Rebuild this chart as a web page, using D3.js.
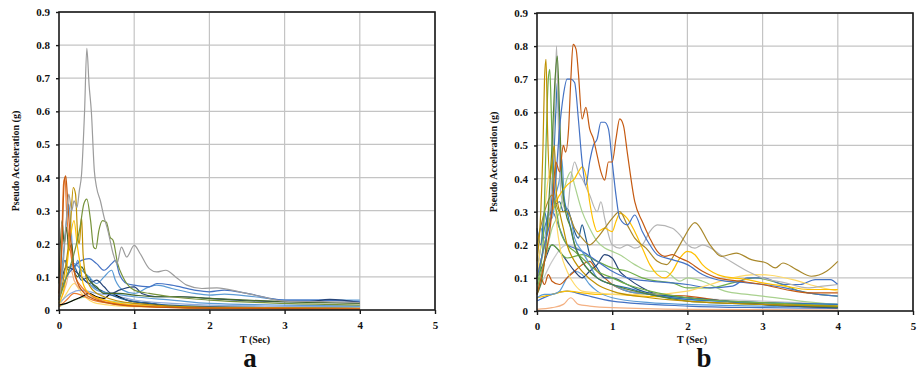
<!DOCTYPE html>
<html>
<head>
<meta charset="utf-8">
<script src="https://cdn.jsdelivr.net/npm/d3@7"></script>
<style>
  body { margin: 0; background: #fff; }
  svg text { font-family: "Liberation Serif", "Times New Roman", serif; font-weight: bold; }
</style>
</head>
<body>
<div id="chart"></div>
<script>
// Period ticks and acceleration ticks shared by both panels
const periodTicks = [0, 1, 2, 3, 4, 5]
const accelTicks = [0, 0.1, 0.2, 0.3, 0.4, 0.5, 0.6, 0.7, 0.8, 0.9]

// ---- panel a : spectra, [T (s), Sa (g)] ----
const aGray = [[0,0.03],[0.05,0.12],[0.1,0.28],[0.13,0.35],[0.17,0.3],[0.2,0.33],[0.24,0.31],[0.27,0.36],[0.3,0.41],[0.34,0.6],[0.37,0.79],[0.4,0.68],[0.43,0.6],[0.47,0.42],[0.5,0.37],[0.55,0.33],[0.6,0.28],[0.65,0.24],[0.72,0.17],[0.77,0.14],[0.83,0.19],[0.9,0.16],[1.0,0.195],[1.08,0.17],[1.2,0.125],[1.3,0.115],[1.42,0.12],[1.55,0.1],[1.7,0.075],[1.9,0.065],[2.1,0.067],[2.4,0.055],[2.7,0.04],[3.0,0.027],[3.5,0.025],[4.0,0.022]]
const aGreen = [[0,0.03],[0.1,0.1],[0.2,0.17],[0.28,0.25],[0.33,0.32],[0.37,0.335],[0.42,0.27],[0.46,0.19],[0.49,0.185],[0.53,0.24],[0.58,0.27],[0.63,0.265],[0.68,0.22],[0.72,0.21],[0.78,0.14],[0.85,0.1],[0.9,0.08],[1.0,0.06],[1.2,0.05],[1.5,0.04],[2,0.03],[3,0.02],[4,0.015]]
const aOrange1 = [[0,0.05],[0.04,0.2],[0.07,0.39],[0.09,0.405],[0.11,0.35],[0.13,0.28],[0.16,0.2],[0.2,0.12],[0.3,0.06],[0.5,0.03],[1,0.012],[2,0.006],[4,0.003]]
const aOrange2 = [[0,0.04],[0.03,0.15],[0.06,0.38],[0.08,0.4],[0.1,0.3],[0.13,0.22],[0.17,0.15],[0.22,0.1],[0.3,0.07],[0.45,0.04],[0.7,0.02],[1,0.012],[2,0.006],[4,0.004]]
const aOrange3 = [[0,0.01],[0.1,0.03],[0.2,0.05],[0.3,0.045],[0.45,0.03],[0.7,0.02],[1,0.015],[2,0.008],[4,0.004]]
const aPeach = [[0,0.02],[0.1,0.08],[0.15,0.13],[0.2,0.09],[0.3,0.06],[0.4,0.05],[0.6,0.03],[1,0.015],[2,0.006],[4,0.003]]
const aGold = [[0,0.03],[0.1,0.15],[0.15,0.25],[0.19,0.37],[0.22,0.35],[0.25,0.22],[0.27,0.2],[0.3,0.28],[0.32,0.17],[0.36,0.1],[0.45,0.06],[0.6,0.04],[1,0.02],[2,0.008],[4,0.005]]
const aYellow = [[0,0.02],[0.08,0.08],[0.14,0.2],[0.2,0.27],[0.24,0.2],[0.28,0.14],[0.32,0.08],[0.4,0.05],[0.6,0.03],[1,0.015],[2,0.006],[4,0.004]]
const aLtYellow = [[0,0.01],[0.1,0.05],[0.2,0.08],[0.3,0.05],[0.5,0.02],[1,0.01],[4,0.003]]
const aLtBlue = [[0,0.05],[0.05,0.15],[0.1,0.27],[0.13,0.32],[0.16,0.25],[0.2,0.12],[0.25,0.15],[0.3,0.1],[0.4,0.08],[0.5,0.06],[0.7,0.05],[1,0.04],[1.5,0.03],[2,0.02],[3,0.015],[4,0.012]]
const aBlue = [[0,0.04],[0.1,0.1],[0.2,0.13],[0.3,0.15],[0.4,0.155],[0.5,0.14],[0.6,0.12],[0.7,0.14],[0.75,0.15],[0.8,0.11],[0.9,0.08],[1.0,0.075],[1.2,0.07],[1.3,0.08],[1.5,0.075],[1.8,0.06],[2.0,0.055],[2.2,0.06],[2.5,0.05],[3.0,0.03],[3.5,0.03],[4,0.025]]
const aBlue2 = [[0,0.04],[0.1,0.1],[0.2,0.14],[0.3,0.12],[0.4,0.1],[0.5,0.08],[0.6,0.1],[0.7,0.12],[0.75,0.09],[0.85,0.06],[1.0,0.05],[1.2,0.07],[1.3,0.075],[1.5,0.065],[1.8,0.05],[2.0,0.045],[2.2,0.048],[2.6,0.04],[3.0,0.03],[3.5,0.03],[4.0,0.03]]
const aDkBlue = [[0,0.05],[0.1,0.13],[0.2,0.12],[0.3,0.1],[0.4,0.08],[0.5,0.09],[0.6,0.07],[0.7,0.05],[0.8,0.06],[1.0,0.07],[1.1,0.05],[1.3,0.04],[1.6,0.04],[2.0,0.035],[2.5,0.028],[3.0,0.025],[3.3,0.025],[3.6,0.032],[4,0.022]]
const aSteel = [[0,0.03],[0.08,0.15],[0.12,0.12],[0.18,0.14],[0.25,0.11],[0.3,0.09],[0.4,0.1],[0.45,0.075],[0.55,0.06],[0.7,0.045],[0.9,0.03],[1.2,0.02],[2,0.01],[4,0.005]]
const aDkGreen = [[0,0.08],[0.04,0.27],[0.07,0.2],[0.1,0.25],[0.13,0.18],[0.17,0.2],[0.2,0.12],[0.25,0.1],[0.3,0.13],[0.35,0.11],[0.4,0.09],[0.5,0.07],[0.6,0.05],[0.8,0.05],[1.0,0.045],[1.3,0.04],[1.6,0.04],[2,0.035],[2.5,0.03],[3,0.025],[4,0.02]]
const aLtGreen = [[0,0.01],[0.2,0.03],[0.4,0.04],[0.6,0.03],[1,0.02],[2,0.01],[4,0.005]]
const aSlate = [[0,0.02],[0.15,0.05],[0.3,0.06],[0.5,0.05],[0.7,0.045],[1,0.03],[1.5,0.02],[2,0.015],[4,0.01]]
const aBlack = [[0,0.015],[0.1,0.02],[0.2,0.03],[0.3,0.04],[0.4,0.05],[0.5,0.04],[0.6,0.035],[0.7,0.05],[0.8,0.04],[0.9,0.03],[1.0,0.025],[1.2,0.02],[1.5,0.01],[2,0.005],[4,0.003]]

// ---- panel b ----
const bBrown = [[0,0.05],[0.1,0.15],[0.2,0.3],[0.25,0.45],[0.3,0.42],[0.35,0.5],[0.38,0.48],[0.42,0.55],[0.45,0.7],[0.48,0.805],[0.52,0.79],[0.55,0.72],[0.6,0.58],[0.65,0.615],[0.7,0.55],[0.75,0.52],[0.8,0.47],[0.85,0.42],[0.9,0.395],[0.95,0.45],[1.0,0.45],[1.05,0.52],[1.1,0.58],[1.15,0.56],[1.2,0.48],[1.3,0.33],[1.4,0.27],[1.5,0.22],[1.6,0.18],[1.7,0.165],[1.8,0.17],[1.9,0.16],[2.0,0.15],[2.2,0.12],[2.4,0.1],[2.7,0.09],[3.0,0.08],[3.3,0.065],[3.6,0.055],[4,0.055]]
const bBlue = [[0,0.1],[0.1,0.2],[0.2,0.3],[0.25,0.4],[0.3,0.55],[0.35,0.65],[0.4,0.7],[0.45,0.7],[0.5,0.69],[0.55,0.58],[0.6,0.45],[0.65,0.38],[0.7,0.45],[0.75,0.5],[0.8,0.52],[0.85,0.57],[0.9,0.57],[0.95,0.55],[1.0,0.45],[1.05,0.35],[1.1,0.28],[1.2,0.26],[1.3,0.29],[1.4,0.24],[1.5,0.2],[1.6,0.17],[1.8,0.155],[2.0,0.14],[2.2,0.11],[2.5,0.09],[2.8,0.085],[3.0,0.08],[3.3,0.07],[3.6,0.055],[4,0.045]]
const bOlive = [[0,0.2],[0.1,0.3],[0.2,0.35],[0.3,0.3],[0.4,0.3],[0.5,0.25],[0.6,0.22],[0.7,0.2],[0.8,0.22],[0.9,0.25],[1.0,0.28],[1.1,0.3],[1.2,0.26],[1.3,0.22],[1.45,0.19],[1.6,0.15],[1.72,0.14],[1.85,0.18],[1.95,0.22],[2.1,0.267],[2.3,0.2],[2.45,0.165],[2.65,0.175],[2.85,0.155],[3.05,0.145],[3.17,0.13],[3.27,0.145],[3.45,0.125],[3.65,0.105],[3.85,0.12],[4.0,0.15]]
const bGold = [[0,0.15],[0.05,0.3],[0.08,0.5],[0.1,0.7],[0.12,0.76],[0.14,0.55],[0.17,0.4],[0.2,0.45],[0.23,0.5],[0.26,0.35],[0.3,0.3],[0.35,0.25],[0.4,0.2],[0.5,0.15],[0.6,0.12],[0.8,0.08],[1,0.06],[1.5,0.04],[2,0.03],[3,0.02],[4,0.015]]
const bYellow = [[0,0.1],[0.1,0.2],[0.2,0.3],[0.3,0.35],[0.4,0.38],[0.5,0.4],[0.55,0.42],[0.6,0.435],[0.65,0.41],[0.7,0.33],[0.75,0.27],[0.8,0.24],[0.9,0.25],[1.0,0.24],[1.05,0.27],[1.1,0.295],[1.2,0.28],[1.3,0.24],[1.4,0.19],[1.5,0.14],[1.6,0.11],[1.7,0.1],[1.8,0.12],[1.9,0.16],[2.0,0.18],[2.1,0.17],[2.2,0.14],[2.4,0.11],[2.6,0.1],[2.8,0.095],[3.0,0.085],[3.3,0.075],[3.6,0.065],[4.0,0.065]]
const bLtYellow = [[0,0.1],[0.1,0.3],[0.15,0.4],[0.22,0.45],[0.25,0.3],[0.3,0.2],[0.4,0.12],[0.5,0.08],[0.6,0.06],[0.8,0.055],[1.0,0.05],[1.5,0.05],[2,0.06],[2.3,0.08],[2.6,0.1],[2.9,0.11],[3.1,0.108],[3.4,0.095],[3.7,0.075],[4,0.06]]
const bGray = [[0,0.1],[0.1,0.2],[0.2,0.4],[0.24,0.65],[0.26,0.8],[0.28,0.6],[0.32,0.35],[0.4,0.3],[0.45,0.4],[0.5,0.45],[0.55,0.42],[0.6,0.4],[0.7,0.35],[0.8,0.3],[0.85,0.33],[0.9,0.28],[1.0,0.2],[1.1,0.19],[1.2,0.2],[1.3,0.19],[1.4,0.2],[1.5,0.24],[1.6,0.26],[1.8,0.25],[1.9,0.23],[2.0,0.2],[2.1,0.19],[2.2,0.2],[2.5,0.16],[2.8,0.12],[3.0,0.1],[3.3,0.085],[3.6,0.07],[3.8,0.075],[4.0,0.08]]
const bLtGray = [[0,0.05],[0.2,0.15],[0.4,0.2],[0.6,0.18],[0.8,0.1],[1,0.08],[1.5,0.05],[2,0.04],[3,0.03],[4,0.02]]
const bDkGreen = [[0,0.05],[0.1,0.15],[0.15,0.3],[0.2,0.5],[0.24,0.7],[0.27,0.77],[0.3,0.6],[0.33,0.4],[0.38,0.3],[0.45,0.25],[0.5,0.2],[0.6,0.15],[0.7,0.12],[0.8,0.1],[1,0.08],[1.5,0.05],[2,0.03],[3,0.02],[4,0.012]]
const bGreen = [[0,0.08],[0.08,0.2],[0.12,0.5],[0.15,0.7],[0.17,0.73],[0.19,0.6],[0.22,0.35],[0.26,0.3],[0.3,0.25],[0.4,0.2],[0.5,0.18],[0.6,0.16],[0.8,0.12],[1,0.1],[1.2,0.08],[1.5,0.06],[2,0.04],[3,0.025],[4,0.015]]
const bLtGreen = [[0,0.05],[0.1,0.15],[0.2,0.25],[0.3,0.3],[0.4,0.4],[0.45,0.42],[0.5,0.38],[0.6,0.3],[0.7,0.25],[0.8,0.21],[0.9,0.19],[1.0,0.18],[1.1,0.17],[1.3,0.14],[1.5,0.12],[1.7,0.12],[1.9,0.09],[2.0,0.1],[2.2,0.09],[2.5,0.06],[2.8,0.05],[3.0,0.045],[3.5,0.03],[4.0,0.02]]
const bGreen2 = [[0,0.06],[0.2,0.2],[0.4,0.16],[0.6,0.17],[0.8,0.15],[1.0,0.13],[1.2,0.12],[1.4,0.1],[1.6,0.09],[1.8,0.085],[2.0,0.07],[2.3,0.07],[2.6,0.085],[2.9,0.1],[3.2,0.085],[3.5,0.06],[4,0.045]]
const bLtBlue = [[0,0.2],[0.05,0.25],[0.1,0.22],[0.15,0.3],[0.2,0.28],[0.25,0.35],[0.3,0.4],[0.33,0.46],[0.36,0.35],[0.4,0.3],[0.45,0.28],[0.5,0.22],[0.6,0.18],[0.7,0.14],[0.8,0.1],[1.0,0.08],[1.2,0.06],[1.5,0.05],[2,0.035],[3,0.025],[4,0.02]]
const bBlue3 = [[0,0.25],[0.05,0.2],[0.1,0.3],[0.15,0.25],[0.2,0.35],[0.25,0.6],[0.27,0.69],[0.3,0.5],[0.35,0.35],[0.4,0.3],[0.5,0.2],[0.6,0.15],[0.7,0.12],[0.8,0.1],[1,0.08],[1.2,0.07],[1.5,0.05],[2,0.035],[2.5,0.03],[3,0.025],[4,0.02]]
const bBlue4 = [[0,0.12],[0.1,0.25],[0.2,0.3],[0.3,0.25],[0.4,0.2],[0.5,0.19],[0.6,0.18],[0.8,0.15],[1.0,0.12],[1.2,0.1],[1.5,0.09],[1.8,0.085],[2.0,0.08],[2.3,0.07],[2.6,0.075],[2.8,0.1],[3.0,0.1],[3.3,0.08],[3.5,0.08],[3.7,0.095],[3.9,0.095],[4.0,0.08]]
const bSteel = [[0,0.1],[0.1,0.2],[0.2,0.3],[0.3,0.33],[0.35,0.3],[0.4,0.31],[0.45,0.28],[0.5,0.24],[0.55,0.22],[0.6,0.26],[0.65,0.22],[0.7,0.17],[0.8,0.13],[0.9,0.1],[1.0,0.1],[1.2,0.08],[1.4,0.06],[1.6,0.05],[2,0.04],[2.5,0.03],[3,0.02],[4,0.012]]
const bDkBlue = [[0,0.1],[0.1,0.15],[0.2,0.2],[0.3,0.18],[0.4,0.15],[0.5,0.12],[0.6,0.1],[0.7,0.12],[0.8,0.14],[0.9,0.17],[1.0,0.16],[1.1,0.12],[1.2,0.1],[1.4,0.07],[1.6,0.05],[2.0,0.04],[2.5,0.03],[3.0,0.02],[4,0.01]]
const bOrange = [[0,0.05],[0.05,0.1],[0.1,0.08],[0.15,0.11],[0.2,0.09],[0.3,0.08],[0.4,0.1],[0.5,0.12],[0.6,0.14],[0.7,0.15],[0.8,0.12],[0.9,0.1],[1.0,0.08],[1.2,0.06],[1.5,0.05],[2,0.045],[2.5,0.03],[3,0.02],[4,0.01]]
const bPeach = [[0,0.005],[0.2,0.01],[0.35,0.02],[0.45,0.04],[0.55,0.02],[0.7,0.015],[1,0.01],[2,0.005],[4,0.003]]
const bLowBlue = [[0,0.04],[0.1,0.05],[0.2,0.05],[0.3,0.06],[0.4,0.1],[0.5,0.12],[0.6,0.11],[0.7,0.08],[0.8,0.06],[1,0.04],[1.5,0.025],[2,0.02],[3,0.015],[4,0.01]]
const bLowBlue2 = [[0,0.03],[0.2,0.05],[0.4,0.06],[0.6,0.05],[1,0.03],[2,0.015],[3,0.01],[4,0.008]]
const bYellowLow = [[0,0.04],[0.2,0.05],[0.4,0.06],[0.6,0.055],[0.8,0.05],[1.0,0.05],[1.4,0.045],[2,0.04],[2.5,0.03],[3,0.025],[4,0.015]]

const panelA = [
  [aLtGreen, '#a9d18e'], [aLtYellow, '#ffd966'], [aOrange3, '#ed7d31'], [aPeach, '#f4b183'],
  [aSlate, '#8faadc'], [aBlack, '#000000'], [aSteel, '#255e91'], [aLtBlue, '#5b9bd5'],
  [aBlue2, '#5b9bd5'], [aBlue, '#4472c4'], [aDkBlue, '#264478'], [aDkGreen, '#43682b'],
  [aYellow, '#ffc000'], [aGold, '#bf9000'], [aOrange2, '#ed7d31'], [aOrange1, '#c55a11'],
  [aGreen, '#77933c'], [aGray, '#9c9c9c']
]
const panelB = [
  [bPeach, '#f4b183'], [bLowBlue2, '#4472c4'], [bYellowLow, '#ffc000'], [bLowBlue, '#5b9bd5'],
  [bLtGray, '#c9c9c9'], [bOrange, '#c55a11'], [bDkBlue, '#264478'], [bSteel, '#255e91'],
  [bGreen2, '#70ad47'], [bLtGreen, '#a9d18e'], [bBlue4, '#4472c4'], [bLtYellow, '#ffd966'],
  [bLtBlue, '#5b9bd5'], [bBlue3, '#2e75b6'], [bGray, '#b4b4b4'], [bYellow, '#ffc000'],
  [bOlive, '#a9882b'], [bGreen, '#70ad47'], [bDkGreen, '#548235'], [bGold, '#bf9000'],
  [bBlue, '#4472c4'], [bBrown, '#c55a11']
]

const svg = d3.select('#chart').append('svg')
  .attr('width', 918)
  .attr('height', 372)
  .style('background', '#fff')

function drawPanel(box, series, tag) {
  const x = d3.scaleLinear().domain([0, 5]).range([box.left, box.right])
  const y = d3.scaleLinear().domain([0, 0.9]).range([box.bottom, box.top])
  const g = svg.append('g')

  // grid
  g.append('g').selectAll('line.h')
    .data(accelTicks.slice(1))
    .join('line')
    .attr('x1', box.left).attr('x2', box.right)
    .attr('y1', d => y(d)).attr('y2', d => y(d))
    .attr('stroke', '#c4c4c4').attr('stroke-width', 1.2)
  g.append('g').selectAll('line.v')
    .data(periodTicks.slice(1))
    .join('line')
    .attr('x1', d => x(d)).attr('x2', d => x(d))
    .attr('y1', box.top).attr('y2', box.bottom)
    .attr('stroke', '#c4c4c4').attr('stroke-width', 1.2)

  const line = d3.line()
    .x(d => x(d[0]))
    .y(d => y(d[1]))
    .curve(d3.curveMonotoneX)

  g.append('g')
    .attr('fill', 'none')
    .selectAll('path')
    .data(series)
    .join('path')
    .attr('d', d => line(d[0]))
    .attr('stroke', d => d[1])
    .attr('stroke-width', 1.2)
    .attr('stroke-linejoin', 'round')

  // plot border
  g.append('rect')
    .attr('x', box.left).attr('y', box.top)
    .attr('width', box.right - box.left).attr('height', box.bottom - box.top)
    .attr('fill', 'none').attr('stroke', '#1a1a1a').attr('stroke-width', 1.6)

  const xAxis = g.append('g')
    .attr('transform', `translate(0,${box.bottom})`)
    .call(d3.axisBottom(x).tickValues(periodTicks).tickFormat(d3.format('d')).tickSize(4).tickSizeOuter(0))
  const yAxis = g.append('g')
    .attr('transform', `translate(${box.left},0)`)
    .call(d3.axisLeft(y).tickValues(accelTicks).tickFormat(d => d === 0 ? '0' : d3.format('.1f')(d)).tickSize(3).tickSizeOuter(0))
  for (const ax of [xAxis, yAxis]) {
    ax.select('.domain').remove()
    ax.selectAll('.tick line').attr('stroke', '#1a1a1a').attr('stroke-width', 1.4)
    ax.selectAll('text').attr('fill', '#111').style('font-size', '11px')
  }
  xAxis.selectAll('text').attr('dy', '1.05em')
  yAxis.selectAll('text').attr('x', -9)

  g.append('text')
    .attr('transform', `translate(${box.ylabelX},${(box.top + box.bottom) / 2}) rotate(-90)`)
    .attr('text-anchor', 'middle')
    .style('font-size', '10px')
    .attr('fill', '#111')
    .text('Pseudo Acceleration (g)')

  g.append('text')
    .attr('x', box.xlabelX).attr('y', 343)
    .attr('text-anchor', 'middle')
    .style('font-size', '10px')
    .attr('fill', '#111')
    .text('T (Sec)')

  g.append('text')
    .attr('x', box.tagX).attr('y', 367)
    .attr('text-anchor', 'middle')
    .style('font-size', '27px')
    .attr('fill', '#111')
    .text(tag)
}

drawPanel({ left: 59, right: 435, top: 12, bottom: 310, ylabelX: 19, xlabelX: 255, tagX: 250 }, panelA, 'a')
drawPanel({ left: 537, right: 913, top: 13, bottom: 311, ylabelX: 497, xlabelX: 692, tagX: 704 }, panelB, 'b')
</script>
</body>
</html>
